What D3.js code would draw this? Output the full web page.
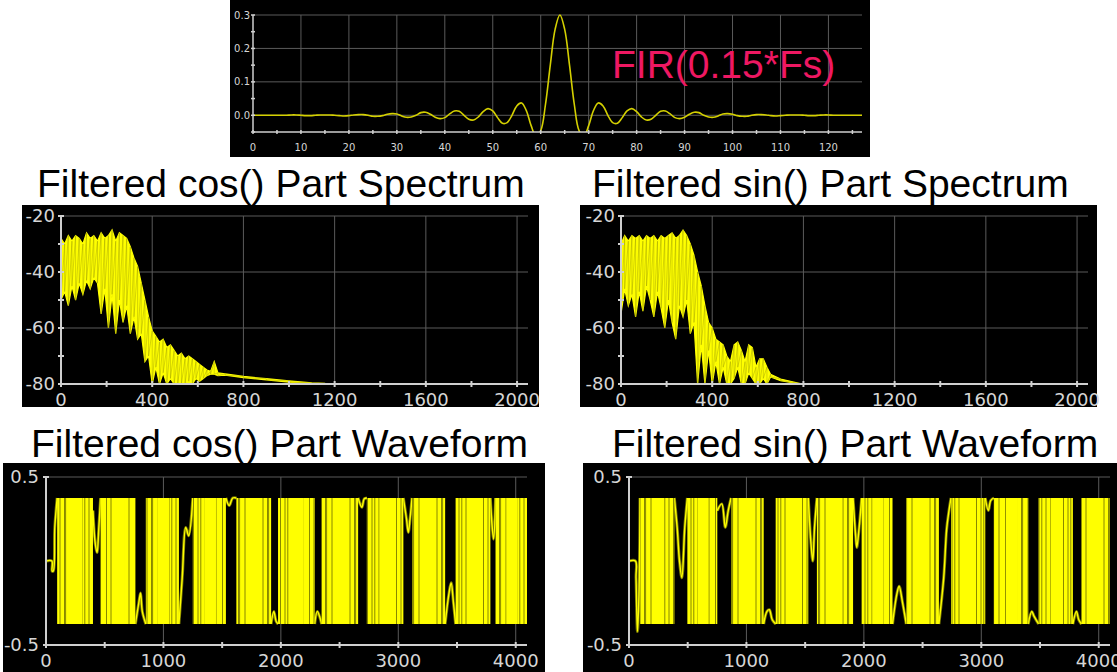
<!DOCTYPE html>
<html>
<head>
<meta charset="utf-8">
<script src="https://cdn.jsdelivr.net/npm/d3@7"></script>
<style>
  body { margin: 0; background: #fff; }
  svg { display: block; }
</style>
</head>
<body>
<div id="chart"></div>
<script>
// FIR taps, n = 0..127
const firTaps = [
  0.000, 0.000, 0.000, 0.000, 0.000, 0.000, 0.000, 0.000, 0.001, 0.001,
  0.000, -0.001, -0.001, 0.000, 0.001, 0.001, 0.001, 0.000, -0.001, -0.002,
  -0.001, 0.001, 0.002, 0.002, 0.000, -0.003, -0.003, -0.001, 0.003, 0.005,
  0.004, -0.002, -0.006, -0.005, 0.000, 0.008, 0.009, 0.003, -0.006, -0.010,
  -0.007, 0.004, 0.013, 0.012, 0.000, -0.012, -0.014, -0.005, 0.011, 0.020,
  0.013, -0.007, -0.024, -0.022, 0.000, 0.028, 0.037, 0.014, -0.031, -0.062,
  -0.046, 0.033, 0.151, 0.257, 0.300, 0.257, 0.151, 0.033, -0.046, -0.062,
  -0.031, 0.014, 0.037, 0.028, 0.000, -0.022, -0.024, -0.007, 0.013, 0.020,
  0.011, -0.005, -0.014, -0.012, 0.000, 0.012, 0.013, 0.004, -0.007, -0.010,
  -0.006, 0.003, 0.009, 0.008, 0.000, -0.005, -0.006, -0.002, 0.004, 0.005,
  0.003, -0.001, -0.003, -0.003, 0.000, 0.002, 0.002, 0.001, -0.001, -0.002,
  -0.001, 0.000, 0.001, 0.001, 0.001, 0.000, -0.001, -0.001, 0.000, 0.001,
  0.001, 0.000, 0.000, 0.000, 0.000, 0.000, 0.000, 0.000
];

// spectra: frequency, upper and lower edge of the yellow band (dB)
const cosSpecFreq = [0, 16, 32, 48, 64, 80, 96, 112, 128, 144, 160, 176, 192, 208, 224, 240, 256, 272, 288, 304,
  320, 336, 352, 368, 384, 400, 416, 432, 448, 464, 480, 496, 512, 528, 544, 560, 576, 592, 608, 624,
  640, 656, 672, 688, 720, 800, 900, 1000, 1100, 1156];
const cosSpecHi = [-28, -30, -27, -29, -27, -28, -30, -26, -28, -27, -29, -26, -28, -27, -25, -29, -26, -27, -28, -31,
  -35, -38, -44, -50, -56, -61, -63, -65, -64, -67, -66, -68, -70, -69, -71, -70, -71, -72, -73, -74,
  -75, -75.5, -72, -76, -76.4, -77.3, -78.1, -78.9, -79.6, -79.8];
const cosSpecLo = [-50, -47, -52, -45, -50, -44, -48, -43, -46, -42, -44, -55, -46, -60, -48, -62, -50, -58, -52, -62,
  -56, -64, -62, -72, -70, -80, -74, -80, -76, -80, -78, -80, -80, -80, -80, -79, -80, -78, -79, -78,
  -77, -76.5, -76.5, -77, -76.8, -77.7, -78.5, -79.3, -80, -80];

const sinSpecFreq = [0, 16, 32, 48, 64, 80, 96, 112, 128, 144, 160, 176, 192, 208, 224, 240, 256, 272, 288, 304,
  320, 336, 352, 368, 384, 400, 416, 432, 448, 464, 480, 496, 512, 528, 544, 560, 576, 592, 608, 624,
  640, 656, 700, 784];
const sinSpecHi = [-30, -27, -29, -27, -28, -27, -29, -27, -28, -27, -29, -27, -28, -27, -26, -28, -27, -25, -27, -30,
  -34, -40, -45, -52, -58, -60, -64, -65, -66, -70, -72, -66, -65, -68, -72, -66, -67, -74, -71, -71,
  -74, -76.5, -78.2, -79.8];
const sinSpecLo = [-55, -46, -52, -48, -56, -47, -54, -45, -50, -56, -47, -53, -60, -50, -58, -64, -52, -56, -50, -62,
  -58, -80, -66, -80, -68, -80, -72, -80, -74, -80, -80, -78, -74, -80, -80, -76, -78, -80, -80, -78,
  -80, -77.5, -78.8, -80];

// waveforms: sample ranges of the dense bursts, and the slow strokes between them
const waveTop = 0.375, waveBottom = -0.375;
const cosBurstStart = [95, 465, 850, 1250, 1621, 1976, 2347, 2732, 3117, 3488, 3828];
const cosBurstEnd = [400, 761, 1132, 1532, 1917, 2288, 2658, 3043, 3399, 3784, 4096];
const cosStrokes = [
  [[0, 0], [50, 0], [52, -0.06], [62, -0.06], [75, 0.2], [95, 0.375]],
  [[400, 0.3], [420, 0.1], [435, 0.05], [450, 0.2], [465, 0.375]],
  [[761, -0.375], [790, -0.25], [805, -0.19], [820, -0.3], [850, -0.375]],
  [[1132, -0.375], [1160, -0.1], [1190, 0.2], [1215, 0.15], [1250, 0.375]],
  [[1532, 0.375], [1560, 0.33], [1590, 0.375], [1621, 0.375]],
  [[1917, -0.375], [1940, -0.3], [1960, -0.36], [1976, -0.375]],
  [[2288, -0.375], [2310, -0.3], [2330, -0.33], [2347, -0.375]],
  [[2658, 0.375], [2690, 0.32], [2710, 0.37], [2732, 0.375]],
  [[3043, 0.375], [3070, 0.25], [3085, 0.17], [3100, 0.25], [3117, 0.375]],
  [[3399, -0.375], [3430, -0.2], [3450, -0.13], [3470, -0.25], [3488, -0.375]],
  [[3784, 0.375], [3800, 0.2], [3812, 0.13], [3828, 0.375]]
];
const sinBurstStart = [94, 497, 869, 1249, 1600, 1981, 2361, 2742, 3107, 3488, 3853];
const sinBurstEnd = [386, 752, 1147, 1527, 1908, 2244, 2639, 3034, 3400, 3780, 4096];
const sinStrokes = [
  [[0, 0], [55, 0], [60, -0.1], [72, -0.42], [85, -0.2], [94, 0.375]],
  [[386, 0.375], [410, 0.2], [430, 0.0], [450, -0.1], [475, 0.2], [497, 0.375]],
  [[752, 0.3], [790, 0.34], [820, 0.2], [845, 0.3], [869, 0.375]],
  [[1147, -0.375], [1175, -0.3], [1195, -0.29], [1220, -0.35], [1249, -0.375]],
  [[1527, 0.375], [1550, 0.1], [1565, 0.0], [1580, 0.2], [1600, 0.375]],
  [[1908, 0.375], [1930, 0.15], [1940, 0.08], [1960, 0.2], [1981, 0.375]],
  [[2244, -0.375], [2280, -0.2], [2300, -0.15], [2330, -0.25], [2361, -0.375]],
  [[2639, -0.375], [2680, -0.1], [2705, 0.19], [2725, 0.3], [2742, 0.375]],
  [[3034, 0.375], [3060, 0.3], [3080, 0.36], [3107, 0.375]],
  [[3400, -0.375], [3430, -0.3], [3450, -0.33], [3488, -0.375]],
  [[3780, -0.375], [3810, -0.3], [3830, -0.35], [3853, -0.375]]
];

// tick labels
const firXLabels = [0, 10, 20, 30, 40, 50, 60, 70, 80, 90, 100, 110, 120];
const firYLabels = [0.0, 0.1, 0.2, 0.3];
const specXLabels = [0, 400, 800, 1200, 1600, 2000];
const specYLabels = [-20, -40, -60, -80];
const waveXLabels = [0, 1000, 2000, 3000, 4000];
const waveYLabels = [0.5, -0.5];

const YEL = '#ffff00';
const OLIVE = '#7a7a00';

const svg = d3.select('#chart').append('svg')
  .attr('width', 1117).attr('height', 672);
svg.append('rect').attr('width', 1117).attr('height', 672).attr('fill', '#fff');

const defs = svg.append('defs');
const pat = defs.append('pattern').attr('id', 'strands')
  .attr('patternUnits', 'userSpaceOnUse').attr('width', 29).attr('height', 20);
[2, 6.5, 7.6, 13, 19.5, 24, 26.8].forEach(px => {
  pat.append('line').attr('x1', px).attr('x2', px).attr('y1', 0).attr('y2', 20)
    .attr('stroke', OLIVE).attr('stroke-width', 0.9);
});

let clipId = 0;
function panel(o) {
  const g = svg.append('g');
  g.append('rect').attr('x', o.box[0]).attr('y', o.box[1])
    .attr('width', o.box[2]).attr('height', o.box[3]).attr('fill', '#000');

  const x = d3.scaleLinear().domain(o.xDomain).range(o.xRange);
  const y = d3.scaleLinear().domain(o.yDomain).range(o.yRange);
  const top = o.yRange[1], bottom = o.yRange[0];

  g.selectAll(null).data(o.xGrid).join('line')
    .attr('x1', d => x(d)).attr('x2', d => x(d))
    .attr('y1', top).attr('y2', bottom)
    .attr('stroke', '#5a5a5a').attr('stroke-width', 1);
  g.selectAll(null).data(o.yGrid).join('line')
    .attr('x1', o.xRange[0]).attr('x2', o.xRange[1])
    .attr('y1', d => y(d)).attr('y2', d => y(d))
    .attr('stroke', '#5a5a5a').attr('stroke-width', 1);

  const id = 'clip' + (clipId++);
  defs.append('clipPath').attr('id', id).append('rect')
    .attr('x', o.xRange[0]).attr('y', top - 2)
    .attr('width', o.xRange[1] - o.xRange[0]).attr('height', bottom - top + 2);
  const plot = g.append('g').attr('clip-path', `url(#${id})`);

  const ax = g.append('g');
  const axisCol = '#cfcfcf';
  ax.append('line').attr('x1', o.xRange[0]).attr('x2', o.xRange[1])
    .attr('y1', bottom).attr('y2', bottom)
    .attr('stroke', axisCol).attr('stroke-width', o.axisW);
  ax.append('line').attr('x1', o.xRange[0]).attr('x2', o.xRange[0])
    .attr('y1', bottom).attr('y2', top)
    .attr('stroke', axisCol).attr('stroke-width', o.axisW);
  ax.selectAll(null).data(o.xTicks).join('line')
    .attr('x1', d => x(d)).attr('x2', d => x(d))
    .attr('y1', bottom - o.tick).attr('y2', bottom + o.tick)
    .attr('stroke', axisCol).attr('stroke-width', o.axisW);
  ax.selectAll(null).data(o.yTicks).join('line')
    .attr('x1', o.xRange[0] - o.tick).attr('x2', o.xRange[0] + o.tick)
    .attr('y1', d => y(d)).attr('y2', d => y(d))
    .attr('stroke', axisCol).attr('stroke-width', o.axisW);

  ax.selectAll(null).data(o.xLabels).join('text')
    .attr('x', d => x(d)).attr('y', bottom + o.xLabelDy)
    .attr('text-anchor', 'middle')
    .attr('font-family', 'DejaVu Sans, sans-serif').attr('font-size', o.fontSize)
    .attr('fill', '#d6d6d6').text(o.fmtX);
  ax.selectAll(null).data(o.yLabels).join('text')
    .attr('x', o.xRange[0] - o.yLabelDx).attr('y', d => y(d))
    .attr('dy', '0.36em').attr('text-anchor', 'end')
    .attr('font-family', 'DejaVu Sans, sans-serif').attr('font-size', o.fontSize)
    .attr('fill', '#d6d6d6').text(o.fmtY);

  return { x, y, plot };
}

function title(text, x, y) {
  svg.append('text').attr('x', x).attr('y', y)
    .attr('font-family', 'Liberation Sans, Arial, sans-serif')
    .attr('font-size', 39).attr('fill', '#000').text(text);
}

// ---- FIR impulse response ----
const fir = panel({
  box: [230, 0, 640, 157],
  xDomain: [0, 127], xRange: [253, 862],
  yDomain: [-0.05, 0.3], yRange: [132, 15],
  xGrid: d3.range(10, 121, 10), yGrid: [0, 0.1, 0.2, 0.3],
  xTicks: d3.range(0, 127, 5), yTicks: [-0.05, 0, 0.05, 0.1, 0.15, 0.2, 0.25, 0.3],
  xLabels: firXLabels, yLabels: firYLabels,
  fmtX: d => d, fmtY: d => d3.format('.1f')(d),
  fontSize: 10, xLabelDy: 19, yLabelDx: 3, tick: 2, axisW: 1.5
});
fir.plot.append('path').datum(firTaps)
  .attr('fill', 'none').attr('stroke', '#d4d000').attr('stroke-width', 1.6)
  .attr('d', d3.line().x((d, i) => fir.x(i)).y(d => fir.y(d)).curve(d3.curveCatmullRom));
svg.append('text').attr('x', 612).attr('y', 78)
  .attr('font-family', 'Liberation Sans, Arial, sans-serif')
  .attr('font-size', 39).attr('fill', '#ee1862').text('FIR(0.15*Fs)');

// ---- spectra ----
function spectrum(boxX, rangeX, freq, hi, lo) {
  const p = panel({
    box: [boxX, 205, 517, 202],
    xDomain: [0, 2048], xRange: rangeX,
    yDomain: [-80, -20], yRange: [384, 216],
    xGrid: [400, 800, 1200, 1600, 2000], yGrid: [-20, -40, -60],
    xTicks: d3.range(0, 2001, 200), yTicks: d3.range(-80, -19, 10),
    xLabels: specXLabels, yLabels: specYLabels,
    fmtX: d => d, fmtY: d => d,
    fontSize: 18, xLabelDy: 22, yLabelDx: 6, tick: 3, axisW: 2
  });
  const pts = freq.map((f, i) => ({ f, hi: hi[i], lo: lo[i] }));
  p.plot.append('path').datum(pts)
    .attr('fill', YEL).attr('stroke', YEL).attr('stroke-width', 1.2)
    .attr('d', d3.area().x(d => p.x(d.f)).y0(d => p.y(d.lo)).y1(d => p.y(d.hi)));
  // streaks between the edges
  const zig = [];
  pts.forEach(d => { zig.push([d.f, d.hi]); zig.push([d.f, d.lo]); });
  p.plot.append('path').datum(zig)
    .attr('fill', 'none').attr('stroke', OLIVE).attr('stroke-width', 0.7).attr('opacity', 0.45)
    .attr('d', d3.line().x(d => p.x(d[0])).y(d => p.y(d[1])));
}
spectrum(22, [61, 528], cosSpecFreq, cosSpecHi, cosSpecLo);
spectrum(580, [621, 1088], sinSpecFreq, sinSpecHi, sinSpecLo);
title('Filtered cos() Part Spectrum', 37, 197);
title('Filtered sin() Part Spectrum', 592, 197);

// ---- waveforms ----
function waveform(box, rangeX, starts, ends, strokes) {
  const p = panel({
    box: box,
    xDomain: [0, 4096], xRange: rangeX,
    yDomain: [-0.5, 0.5], yRange: [645, 477],
    xGrid: [1000, 2000, 3000, 4000], yGrid: [0.5],
    xTicks: d3.range(0, 4001, 500), yTicks: [-0.5, 0.5],
    xLabels: waveXLabels, yLabels: waveYLabels,
    fmtX: d => d, fmtY: d => d,
    fontSize: 18, xLabelDy: 22, yLabelDx: 7, tick: 3, axisW: 2
  });
  const bursts = starts.map((s, i) => ({ s, e: ends[i] }));
  const line = d3.line().x(d => p.x(d[0])).y(d => p.y(d[1])).curve(d3.curveCatmullRom);
  p.plot.selectAll(null).data(strokes).join('path')
    .attr('fill', 'none').attr('stroke', OLIVE).attr('stroke-width', 3).attr('d', line);
  p.plot.selectAll(null).data(strokes).join('path')
    .attr('fill', 'none').attr('stroke', YEL).attr('stroke-width', 1.4).attr('d', line);
  p.plot.selectAll(null).data(bursts).join('rect')
    .attr('x', d => p.x(d.s)).attr('width', d => p.x(d.e) - p.x(d.s))
    .attr('y', p.y(waveTop)).attr('height', p.y(waveBottom) - p.y(waveTop))
    .attr('fill', YEL);
  // darker strands near the burst edges
  p.plot.selectAll(null).data(bursts).join('rect')
    .attr('x', d => p.x(d.s)).attr('width', d => (p.x(d.e) - p.x(d.s)) * 0.35)
    .attr('y', p.y(waveTop)).attr('height', p.y(waveBottom) - p.y(waveTop))
    .attr('fill', 'url(#strands)');
  p.plot.selectAll(null).data(bursts).join('rect')
    .attr('x', d => p.x(d.e) - (p.x(d.e) - p.x(d.s)) * 0.3).attr('width', d => (p.x(d.e) - p.x(d.s)) * 0.3)
    .attr('y', p.y(waveTop)).attr('height', p.y(waveBottom) - p.y(waveTop))
    .attr('fill', 'url(#strands)');
}
waveform([3, 463, 542, 209], [46, 527], cosBurstStart, cosBurstEnd, cosStrokes);
waveform([583, 463, 534, 209], [629, 1110], sinBurstStart, sinBurstEnd, sinStrokes);
title('Filtered cos() Part Waveform', 31, 457);
title('Filtered sin() Part Waveform', 612, 457);
</script>
</body>
</html>
